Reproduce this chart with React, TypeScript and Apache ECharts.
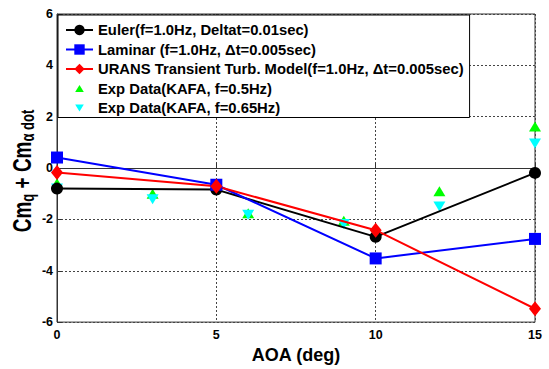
import React, { useEffect, useRef } from 'react';
import * as echarts from 'echarts';

const aoa = [0, 5, 10, 15];
const euler = [-0.8, -0.84, -2.68, -0.19];
const laminar = [0.41, -0.65, -3.52, -2.76];
const urans = [-0.17, -0.71, -2.42, -5.48];
const expAoa = [0, 3, 6, 9, 12, 15];
const exp05 = [-0.59, -1.0, -1.76, -2.05, -0.9, 1.62];
const exp065 = [-0.8, -1.22, -1.82, -2.18, -1.5, 0.96];

const names = [
  'Euler(f=1.0Hz, Deltat=0.01sec)',
  'Laminar (f=1.0Hz, Δt=0.005sec)',
  'URANS Transient Turb. Model(f=1.0Hz, Δt=0.005sec)',
  'Exp Data(KAFA, f=0.5Hz)',
  'Exp Data(KAFA, f=0.65Hz)',
];

const FONT = '"Liberation Sans", Arial, sans-serif';
const DOWN_TRI = 'path://M0,0L12,0L6,10Z';
const UP_TRI_ICON = 'path://M-3,-4M15,14M0,10L12,10L6,0Z';
const DOWN_TRI_ICON = 'path://M-3,-4M15,14M0,0L12,0L6,10Z';

const pair = (xs: number[], ys: number[]) => xs.map((x, i) => [x, ys[i]]);

export default function App() {
  const ref = useRef<HTMLDivElement>(null);
  useEffect(() => {
    if (!ref.current) return;
    const chart = echarts.init(ref.current, undefined, { renderer: 'svg' });
    const lineSeries = (name: string, data: number[], color: string, symbol: string, size: any) => ({
      name,
      type: 'line',
      data: pair(aoa, data),
      symbol,
      symbolSize: size,
      lineStyle: { color, width: 2 },
      itemStyle: { color },
      showAllSymbol: true,
    });
    chart.setOption({
      animation: false,
      backgroundColor: '#ffffff',
      grid: {
        left: 57,
        right: 14,
        top: 14,
        bottom: 43,
        show: true,
        borderColor: '#333',
        borderWidth: 1,
      },
      xAxis: {
        type: 'value',
        min: 0,
        max: 15,
        interval: 5,
        name: 'AOA (deg)',
        nameLocation: 'middle',
        nameGap: 18,
        nameTextStyle: { fontFamily: FONT, fontWeight: 'bold', fontSize: 18, color: '#000' },
        axisLine: { show: true, lineStyle: { color: '#333' } },
        axisTick: { show: true, inside: true, length: 5, lineStyle: { color: '#333' } },
        axisLabel: { fontFamily: FONT, fontWeight: 'bold', fontSize: 12.5, color: '#000', margin: 6 },
        splitLine: { show: true, lineStyle: { color: '#444', type: [2, 2], width: 1 } },
      },
      yAxis: {
        type: 'value',
        min: -6,
        max: 6,
        interval: 2,
        axisLine: { show: true, lineStyle: { color: '#333' } },
        axisTick: { show: true, inside: true, length: 5, lineStyle: { color: '#333' } },
        axisLabel: { fontFamily: FONT, fontWeight: 'bold', fontSize: 12.5, color: '#000', margin: 4 },
        splitLine: { show: true, lineStyle: { color: '#444', type: [2, 2], width: 1 } },
      },
      legend: {
        orient: 'vertical',
        left: 58,
        top: 15,
        backgroundColor: '#fff',
        borderColor: '#000',
        borderWidth: 1,
        borderRadius: 0,
        padding: [7.5, 6, 2, 7],
        itemWidth: 27,
        itemHeight: 13,
        itemGap: 4.5,
        textStyle: { fontFamily: FONT, fontWeight: 'bold', fontSize: 14.8, color: '#000' },
        data: [
          { name: names[0] },
          { name: names[1] },
          { name: names[2] },
          { name: names[3], icon: UP_TRI_ICON },
          { name: names[4], icon: DOWN_TRI_ICON },
        ],
      },
      graphic: [
        {
          type: 'text',
          x: 22,
          y: 171,
          rotation: Math.PI / 2,
          scaleY: 1.35,
          style: {
            text: '{b|Cm}{s|q}{b| + Cm}{s|α dot}',
            align: 'center',
            verticalAlign: 'middle',
            rich: {
              b: { fontFamily: FONT, fontWeight: 'bold', fontSize: 19, fill: '#000', lineHeight: 22, verticalAlign: 'middle' },
              s: { fontFamily: FONT, fontWeight: 'bold', fontSize: 13, fill: '#000', lineHeight: 22, verticalAlign: 'bottom' },
            },
          },
        },
      ],
      series: [
        lineSeries(names[0], euler, '#000000', 'circle', 12),
        lineSeries(names[1], laminar, '#0000ff', 'rect', 12),
        lineSeries(names[2], urans, '#ff0000', 'diamond', [12, 15]),
        {
          name: names[3],
          type: 'scatter',
          data: pair(expAoa, exp05),
          symbol: 'triangle',
          symbolSize: [12, 10],
          itemStyle: { color: '#00ff00', opacity: 1 },
        },
        {
          name: names[4],
          type: 'scatter',
          data: pair(expAoa, exp065),
          symbol: DOWN_TRI,
          symbolSize: [12, 10],
          itemStyle: { color: '#00ffff', opacity: 1 },
        },
      ],
    });
    return () => chart.dispose();
  }, []);
  return <div ref={ref} style={{ position: 'fixed', left: 0, top: 0, width: 549, height: 369, background: '#fff' }} />;
}
